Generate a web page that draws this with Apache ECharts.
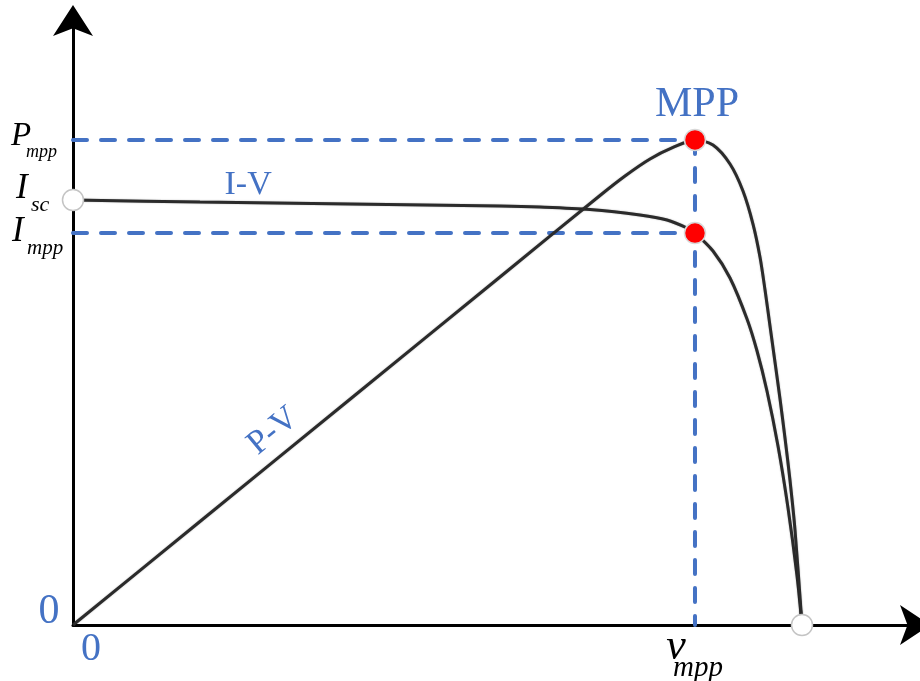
<!DOCTYPE html>
<html>
<head>
<meta charset="utf-8">
<script src="https://cdn.jsdelivr.net/npm/echarts@6/dist/echarts.min.js"></script>
<style>
html,body{margin:0;padding:0;background:#fff;}
#c{width:920px;height:681px;}
</style>
</head>
<body>
<div id="c"></div>
<script>
// ---- data (arbitrary schematic units) ----
const ivVoltage = [0, 15.08, 32.90, 50.71, 55.46, 61.40, 67.34, 70.55, 72.92, 73.87, 76.01, 78.03, 80.05, 81.24, 82.42, 83.73, 84.92, 85.99, 86.58];
const ivCurrent = [70.25, 69.92, 69.59, 69.26, 69.09, 68.68, 67.77, 66.94, 65.62, 64.79, 61.82, 57.36, 50.58, 45.29, 38.68, 29.59, 19.34, 8.10, 0];
const pvVoltage = [0, 15.08, 32.90, 50.71, 62.59, 65.56, 68.53, 71.26, 73.87, 76.01, 78.03, 79.57, 80.76, 81.59, 82.19, 82.78, 83.37, 83.97, 84.56, 85.15, 85.75, 86.58];
const pvPower   = [0, 17.11, 37.32, 57.52, 70.99, 74.21, 77.02, 78.93, 80.17, 79.34, 76.20, 71.74, 66.28, 60.83, 55.37, 49.42, 43.47, 37.36, 30.91, 23.97, 15.70, 0];
const Vmpp = 73.87, Pmpp = 80.17, Impp = 64.79, Isc = 70.25, Voc = 86.58;
const axisMax = [100, 100];

const chart = echarts.init(document.getElementById('c'), null, {renderer: 'canvas'});
const zip = (a, b) => a.map((v, i) => [v, b[i]]);
const blue = '#4472C4';
const dashStyle = {color: blue, width: 4, type: [14, 14], cap: 'round'};
const curveStyle = {color: '#2b2b2b', width: 3, shadowColor: 'rgba(0,0,0,0.35)', shadowBlur: 1.5};

chart.setOption({
  animation: false,
  backgroundColor: '#fff',
  grid: {left: 73, right: 5, top: 20, bottom: 56},
  xAxis: {
    type: 'value', min: 0, max: axisMax[0],
    axisLine: {show: true, symbol: ['none', 'arrow'], symbolSize: [30, 30], symbolOffset: [0, 15], lineStyle: {color: '#000', width: 3}},
    axisTick: {show: false}, axisLabel: {show: false}, splitLine: {show: false}
  },
  yAxis: {
    type: 'value', min: 0, max: axisMax[1],
    axisLine: {show: true, symbol: ['none', 'arrow'], symbolSize: [30, 31], symbolOffset: [0, 15], lineStyle: {color: '#000', width: 3}},
    axisTick: {show: false}, axisLabel: {show: false}, splitLine: {show: false}
  },
  series: [
    {type: 'line', z: 2, symbol: 'none', lineStyle: dashStyle, data: [[0, Pmpp], [Vmpp, Pmpp]]},
    {type: 'line', z: 2, symbol: 'none', lineStyle: dashStyle, data: [[0, Impp], [Vmpp, Impp]]},
    {type: 'line', z: 2, symbol: 'none', lineStyle: dashStyle, data: [[Vmpp, Pmpp], [Vmpp, 0]]},
    {type: 'line', z: 3, symbol: 'none', smooth: 0.3, lineStyle: curveStyle, data: zip(ivVoltage, ivCurrent)},
    {type: 'line', z: 3, symbol: 'none', smooth: 0.3, lineStyle: curveStyle, data: zip(pvVoltage, pvPower)},
    {type: 'scatter', z: 5, symbolSize: 21, itemStyle: {color: '#ff0000', opacity: 1, borderColor: '#d8d8d8', borderWidth: 1.5},
     data: [[Vmpp, Pmpp], [Vmpp, Impp]]},
    {type: 'scatter', z: 5, symbolSize: 21, itemStyle: {color: '#ffffff', opacity: 1, borderColor: '#c4c4c4', borderWidth: 1.5},
     data: [[0, Isc], [Voc, 0]]}
  ]
});

function px(p) { return chart.convertToPixel({xAxisIndex: 0, yAxisIndex: 0}, p); }
const serif = '"Liberation Serif", "DejaVu Serif", serif';
function txt(x, y, text, size, opts) {
  opts = opts || {};
  return {
    type: 'text', x: x, y: y, z: 10, rotation: opts.rotation || 0,
    style: {
      text: text, fontFamily: serif, fontSize: size,
      fontStyle: opts.italic ? 'italic' : 'normal',
      fill: opts.color || '#000', align: opts.align || 'left', verticalAlign: 'middle'
    }
  };
}
const o = px([0, 0]);
const pP = px([0, Pmpp]);
const pIsc = px([0, Isc]);
const pImpp = px([0, Impp]);
const pV = px([Vmpp, 0]);
const pMPP = px([Vmpp, Pmpp]);
const ivLab = px([20.8, 69.9]);
const pvLab = px([24, 27.4]);

chart.setOption({
  graphic: [
    txt(pP[0] - 62, pP[1] - 4, 'P', 33, {italic: true}),
    txt(pP[0] - 47, pP[1] + 12, 'mpp', 18, {italic: true}),
    txt(pIsc[0] - 57, pIsc[1] - 11, 'I', 35, {italic: true}),
    txt(pIsc[0] - 42, pIsc[1] + 5, 'sc', 22, {italic: true}),
    txt(pImpp[0] - 61, pImpp[1] - 1, 'I', 35, {italic: true}),
    txt(pImpp[0] - 46, pImpp[1] + 15, 'mpp', 21, {italic: true}),
    txt(o[0] - 24, o[1] - 13, '0', 42, {color: blue, align: 'center'}),
    txt(o[0] + 18, o[1] + 24, '0', 40, {color: blue, align: 'center'}),
    txt(pV[0] - 19, pV[1] + 22, 'v', 44, {italic: true, align: 'center'}),
    txt(pV[0] - 22, pV[1] + 43, 'mpp', 29, {italic: true}),
    txt(pMPP[0] + 2, pMPP[1] - 35, 'MPP', 42, {color: blue, align: 'center'}),
    txt(ivLab[0], ivLab[1] - 17, 'I-V', 34, {color: blue, align: 'center'}),
    txt(pvLab[0] - 2, pvLab[1] - 28, 'P-V', 34, {color: blue, align: 'center', rotation: 0.69})
  ]
});
</script>
</body>
</html>
